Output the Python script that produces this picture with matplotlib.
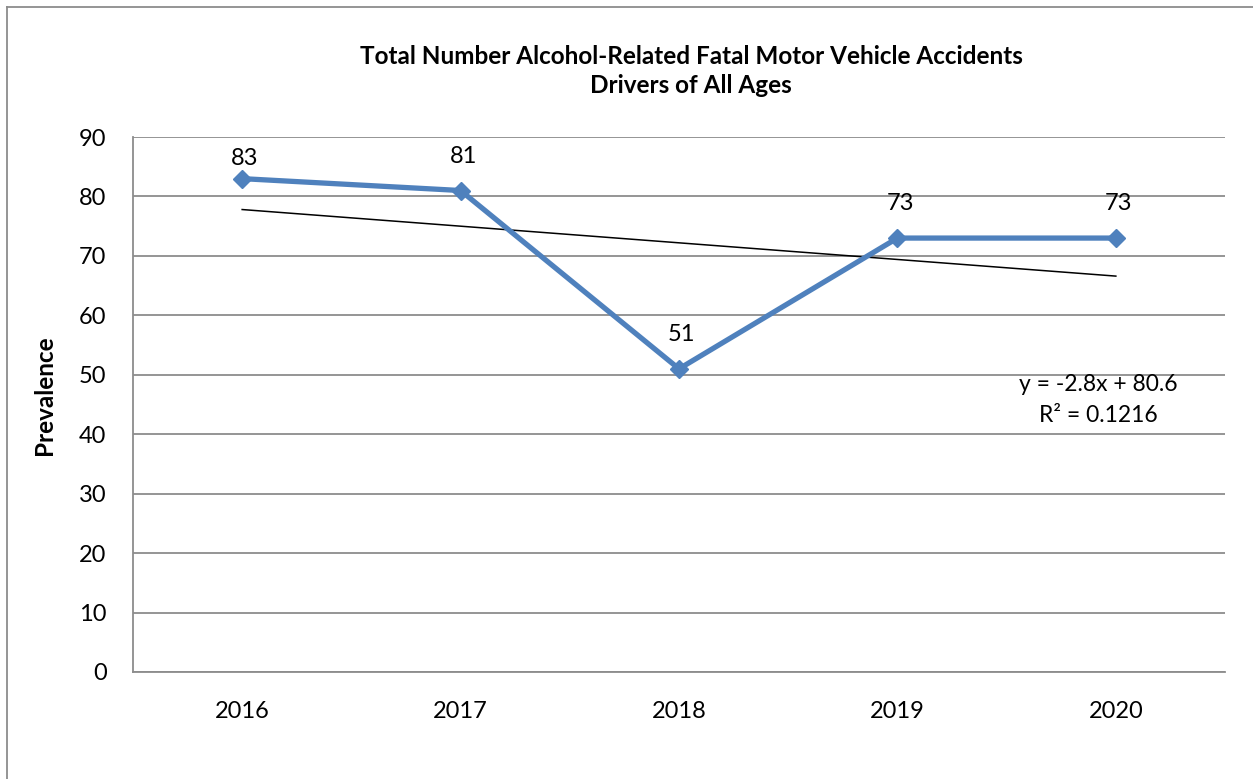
import matplotlib
matplotlib.use("Agg")
import matplotlib.pyplot as plt
from matplotlib.lines import Line2D

plt.rcParams['font.family'] = ['Lato', 'DejaVu Sans']

years = ["2016", "2017", "2018", "2019", "2020"]
values = [83, 81, 51, 73, 73]
trend_slope = -2.8
trend_intercept = 80.6
yticks = [0, 10, 20, 30, 40, 50, 60, 70, 80, 90]

fig = plt.figure(figsize=(12.53, 7.79), dpi=100)
ax = fig.add_axes([0.1061, 0.1374, 0.8716, 0.6867])

xs = list(range(len(years)))
ax.plot(xs, values, color='#4F81BD', lw=3.8, marker='D', markersize=9,
        markerfacecolor='#4F81BD', markeredgecolor='#4F81BD', zorder=3, clip_on=False)

tx = [xs[0], xs[-1]]
ty = [trend_slope * (x + 1) + trend_intercept for x in tx]
ax.plot(tx, ty, color='black', lw=1.1, zorder=2)

label_offsets = [7, 17, 17, 17, 17]
for x, v, off in zip(xs, values, label_offsets):
    ax.annotate(str(v), (x, v), xytext=(2, off), textcoords='offset points',
                ha='center', va='bottom', fontsize=17)

ax.text(3.918, 48.3, "y = -2.8x + 80.6", ha='center', va='center', fontsize=16.5)
ax.text(3.918, 43.1, "R² = 0.1216", ha='center', va='center', fontsize=16.5)

ax.set_xlim(-0.5, 4.5)
ax.set_ylim(0, 90)
ax.set_yticks(yticks)
ax.set_xticks(xs)
ax.set_xticklabels(years)
ax.tick_params(axis='both', length=0, labelsize=17)
ax.tick_params(axis='y', pad=19)
ax.tick_params(axis='x', pad=21)
ax.yaxis.grid(True, color='#8C8C8C', lw=1.3)
ax.set_axisbelow(True)
for s in ['top', 'right']:
    ax.spines[s].set_visible(False)
for s in ['left', 'bottom']:
    ax.spines[s].set_color('#8C8C8C')
    ax.spines[s].set_linewidth(1.3)

ax.set_ylabel("Prevalence", fontsize=17.5, fontweight='bold', labelpad=0)
ax.yaxis.set_label_coords(-0.070, 0.518)

fig.text(0.5517, 0.909, "Total Number Alcohol-Related Fatal Motor Vehicle Accidents\nDrivers of All Ages",
         ha='center', va='center', fontsize=17.5, fontweight='bold', linespacing=1.35)

# outer chart frame (left and top edges visible)
fig.add_artist(Line2D([7/1253, 7/1253], [0, 1 - 7/779], transform=fig.transFigure, color='#8C8C8C', lw=1.3))
fig.add_artist(Line2D([7/1253, 1], [1 - 7/779, 1 - 7/779], transform=fig.transFigure, color='#8C8C8C', lw=1.3))

fig.savefig("out.png", dpi=100)
